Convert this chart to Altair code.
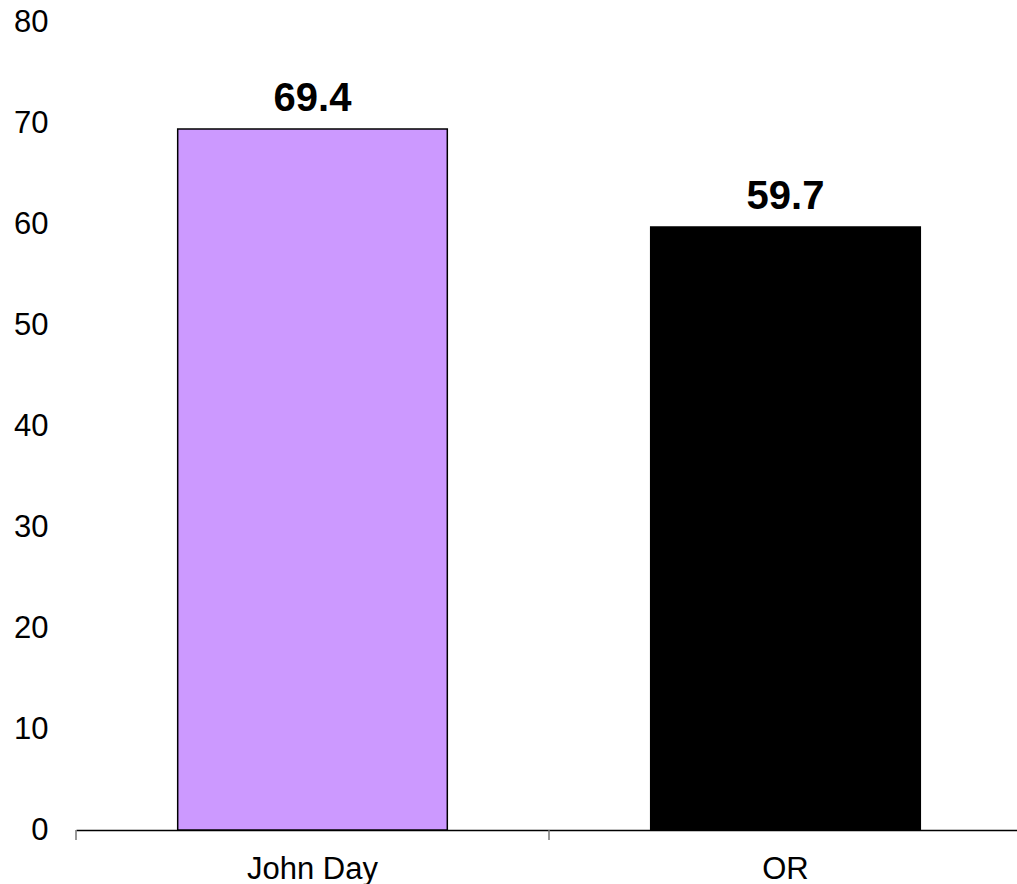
import altair as alt
import pandas as pd

categories = ["John Day", "OR"]
values = [69.4, 59.7]
labels = ["69.4", "59.7"]
colors = ["#CC99FF", "#000000"]

df = pd.DataFrame({"cat": categories, "val": values, "lab": labels, "col": colors})

FONT = "Liberation Sans"

xscale = alt.Scale(domain=categories, paddingInner=0, paddingOuter=0, range=[0, 946])
yscale = alt.Scale(domain=[0, 80], nice=False)

base = alt.Chart(df)

bars = base.mark_bar(
    width=alt.RelativeBandSize(0.57), stroke="black", strokeWidth=1.5
).encode(
    x=alt.X("cat:N", scale=xscale, sort=categories,
            axis=alt.Axis(title=None, labelAngle=0, labelFontSize=31, labelFont=FONT,
                          labelColor="black", ticks=False, domain=True, domainColor="black",
                          domainWidth=1.5, labelPadding=48, labelBaseline="alphabetic",
                          grid=False)),
    y=alt.Y("val:Q", scale=yscale,
            axis=alt.Axis(title=None, values=list(range(0, 81, 10)), domain=False, ticks=False,
                          grid=False, labelFontSize=31, labelFont=FONT, labelColor="black",
                          labelPadding=28)),
    color=alt.Color("col:N", scale=None),
)

ticks = base.mark_rule(color="#777777", strokeWidth=1.5).encode(
    x=alt.X("cat:N", scale=xscale, sort=categories, bandPosition=0),
    y=alt.value(808),
    y2=alt.value(818),
)

text = base.mark_text(fontSize=40, fontWeight="bold", font=FONT, color="black",
                      baseline="alphabetic", dy=-18).encode(
    x=alt.X("cat:N", scale=xscale, sort=categories),
    y=alt.Y("val:Q", scale=yscale),
    text="lab:N",
)

chart = alt.layer(bars, ticks, text).properties(
    width=941, height=808,
    autosize=alt.AutoSizeParams(type="none"),
    padding={"left": 76, "top": 22, "right": 0, "bottom": 54},
    background="white",
).configure_view(stroke=None, strokeWidth=0)

chart.save("out.html", embed_options={"renderer": "svg", "actions": False})
